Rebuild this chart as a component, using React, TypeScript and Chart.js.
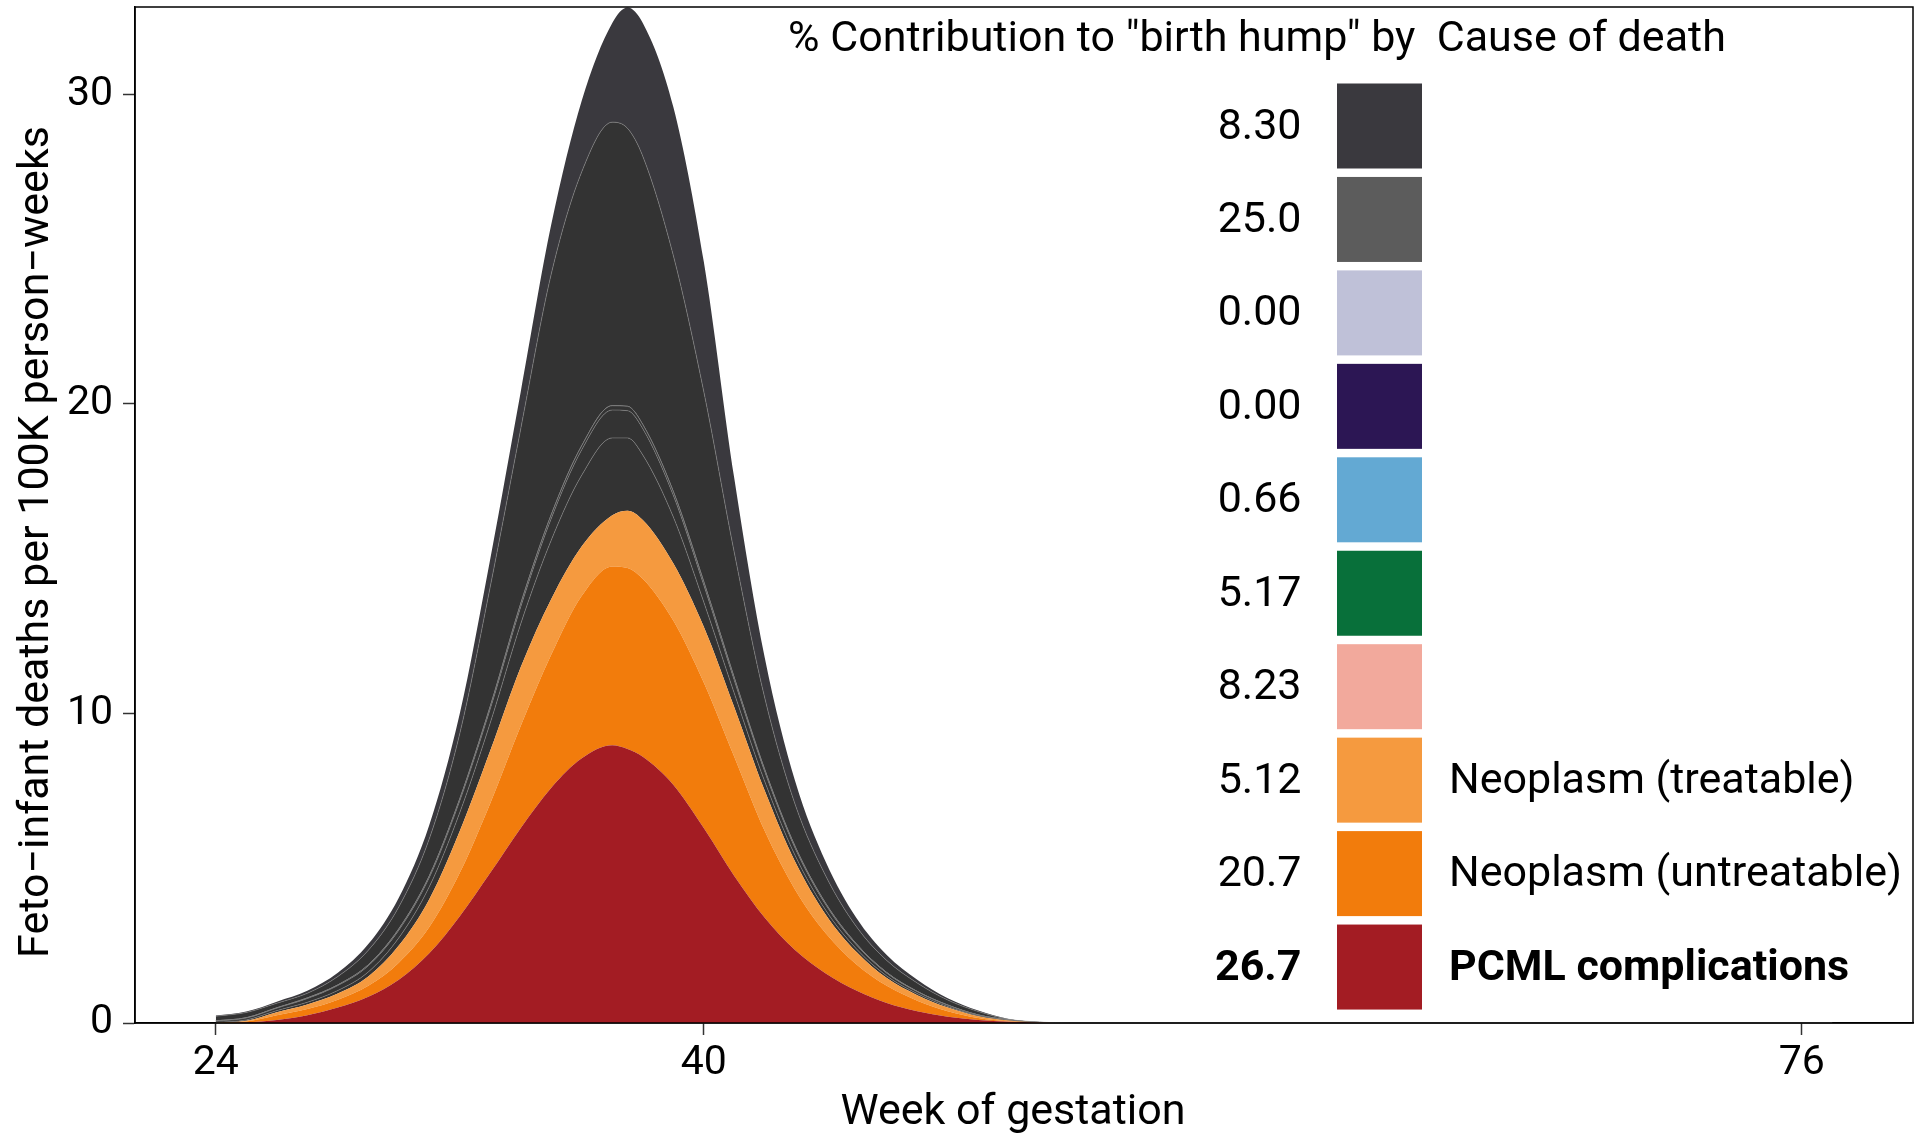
import React, { useEffect, useRef } from "react";
import { Chart, registerables } from "chart.js";

Chart.register(...registerables);

// ---- data -----------------------------------------------------------
const weeks = [24, 25, 26, 27, 28, 29, 30, 31, 32, 33, 34, 35, 36, 37, 37.5, 38, 39, 40, 41, 42, 43, 44, 45, 46, 47, 48, 49, 50, 51, 52, 77];

// layers from bottom to top (deaths per 100K person-weeks)
const pcmlComplications = [0, 0.02, 0.1, 0.25, 0.5, 0.85, 1.4, 2.25, 3.45, 4.85, 6.3, 7.6, 8.55, 8.97, 8.85, 8.6, 7.7, 6.3, 4.75, 3.4, 2.35, 1.6, 1.05, 0.65, 0.38, 0.2, 0.1, 0.04, 0.01, 0, 0];
const neoplasmUntreatable = [0, 0.03, 0.15, 0.2, 0.25, 0.35, 0.55, 0.85, 1.4, 2.25, 3.3, 4.3, 5.25, 5.78, 5.85, 5.75, 5.3, 4.7, 3.85, 2.8, 1.95, 1.3, 0.85, 0.55, 0.34, 0.18, 0.06, 0.01, 0, 0, 0];
const neoplasmTreatable = [0, 0.02, 0.1, 0.15, 0.2, 0.3, 0.55, 0.9, 1.35, 1.7, 1.9, 1.8, 1.6, 1.65, 1.85, 1.9, 1.85, 1.8, 1.6, 1.3, 0.9, 0.6, 0.4, 0.25, 0.18, 0.12, 0.06, 0.03, 0.01, 0, 0];
const cause823 = [0.02, 0.03, 0.05, 0.07, 0.1, 0.15, 0.25, 0.4, 0.6, 0.9, 1.4, 1.9, 2.3, 2.5, 2.35, 2.1, 1.5, 0.8, 0.45, 0.3, 0.2, 0.14, 0.1, 0.07, 0.05, 0.03, 0.02, 0.01, 0, 0, 0];
const cause517 = [0.04, 0.06, 0.08, 0.12, 0.16, 0.2, 0.25, 0.3, 0.38, 0.45, 0.55, 0.7, 0.82, 0.9, 0.88, 0.85, 0.7, 0.55, 0.42, 0.32, 0.24, 0.18, 0.13, 0.09, 0.06, 0.04, 0.02, 0.01, 0, 0, 0];
const cause066 = [0.01, 0.01, 0.01, 0.02, 0.02, 0.03, 0.04, 0.05, 0.06, 0.08, 0.1, 0.12, 0.13, 0.14, 0.14, 0.13, 0.12, 0.1, 0.08, 0.06, 0.05, 0.04, 0.03, 0.02, 0.01, 0.01, 0, 0, 0, 0, 0];
const cause000a = [0, 0, 0, 0, 0, 0, 0, 0, 0, 0, 0, 0, 0, 0, 0, 0, 0, 0, 0, 0, 0, 0, 0, 0, 0, 0, 0, 0, 0, 0, 0];
const cause000b = [0, 0, 0, 0, 0, 0, 0, 0, 0, 0, 0, 0, 0, 0, 0, 0, 0, 0, 0, 0, 0, 0, 0, 0, 0, 0, 0, 0, 0, 0, 0];
const cause250 = [0.15, 0.17, 0.15, 0.15, 0.27, 0.47, 0.71, 1.2, 2.11, 3.87, 5.65, 7.78, 8.85, 9.16, 8.98, 8.67, 7.63, 6.15, 4.05, 2.32, 1.36, 0.89, 0.56, 0.39, 0.27, 0.16, 0.11, 0.02, 0.01, 0, 0];
const cause830 = [0.02, 0.03, 0.05, 0.08, 0.12, 0.2, 0.3, 0.45, 0.65, 0.9, 1.2, 1.6, 2.3, 3.2, 3.9, 4.3, 4.8, 4.2, 2.4, 1.3, 0.75, 0.45, 0.28, 0.18, 0.11, 0.06, 0.03, 0.01, 0, 0, 0];

// legend (top to bottom)
const legendPercents = ["8.30", "25.0", "0.00", "0.00", "0.66", "5.17", "8.23", "5.12", "20.7", "26.7"];
const legendNames = ["", "", "", "", "", "", "", "Neoplasm (treatable)", "Neoplasm (untreatable)", "PCML complications"];
const legendColors = ["#3A393E", "#5C5C5C", "#BFC1D8", "#2C1654", "#63A9D3", "#08703A", "#F2A99C", "#F59A3F", "#F27C0C", "#A31C23"];

const xTicks = [24, 40, 76];
const yTicks = [0, 10, 20, 30];

const legendTitle = '% Contribution to "birth hump" by  Cause of death';
const xTitle = "Week of gestation";
const yTitle = "Feto\u2212infant deaths per 100K person\u2212weeks";

// ---- chart ----------------------------------------------------------
const layers = [
  { data: pcmlComplications, fill: "#A31C23", line: false },
  { data: neoplasmUntreatable, fill: "#F27C0C", line: false },
  { data: neoplasmTreatable, fill: "#F59A3F", line: false },
  { data: cause823, fill: "#333333", line: true },
  { data: cause517, fill: "#333333", line: true },
  { data: cause066, fill: "#333333", line: true },
  { data: cause000a, fill: "#333333", line: true },
  { data: cause000b, fill: "#333333", line: true },
  { data: cause250, fill: "#333333", line: true },
  { data: cause830, fill: "#3A393E", line: false },
];

const FONT = "Roboto";

const decorPlugin = {
  id: "decor",
  afterDraw(chart: any) {
    const { ctx, chartArea: a } = chart;
    ctx.save();
    // panel border
    ctx.strokeStyle = "#000";
    ctx.lineWidth = 1.5;
    ctx.strokeRect(a.left, a.top, a.right - a.left, a.bottom - a.top);

    ctx.fillStyle = "#000";
    // axis titles
    ctx.font = `43px ${FONT}`;
    ctx.textAlign = "center";
    ctx.textBaseline = "alphabetic";
    ctx.fillText(xTitle, 1013, 1124);
    ctx.save();
    ctx.translate(48, 542);
    ctx.rotate(-Math.PI / 2);
    ctx.fillText(yTitle, 0, 0);
    ctx.restore();

    // legend title
    ctx.textAlign = "left";
    ctx.fillText(legendTitle, 788, 51);

    // legend keys
    const keyX = 1337;
    const keyW = 85;
    const top0 = 83.5;
    const pitch = 93.45;
    for (let i = 0; i < legendPercents.length; i++) {
      const y = top0 + i * pitch;
      ctx.fillStyle = legendColors[i];
      ctx.fillRect(keyX, y, keyW, keyW);
      const bold = i === legendPercents.length - 1;
      ctx.fillStyle = "#000";
      ctx.font = `${bold ? "bold " : ""}43px ${FONT}`;
      const base = y + keyW / 2 + 12.5;
      ctx.textAlign = "right";
      ctx.fillText(legendPercents[i], 1301.5, base);
      if (legendNames[i]) {
        ctx.textAlign = "left";
        ctx.fillText(legendNames[i], 1449, base);
      }
    }
    ctx.restore();
  },
};

export default function App() {
  const ref = useRef<HTMLCanvasElement | null>(null);

  useEffect(() => {
    if (!ref.current) return;
    const datasets = layers.map((l, i) => ({
      data: weeks.map((w, j) => ({ x: w, y: l.data[j] })),
      backgroundColor: l.fill,
      borderColor: l.line ? "rgba(140,140,140,0.8)" : "rgba(0,0,0,0)",
      borderWidth: l.line ? 0.7 : 0,
      fill: i === 0 ? "origin" : "-1",
      pointRadius: 0,
      cubicInterpolationMode: "monotone" as const,
    }));

    const tickFont = { family: FONT, size: 41 };
    const zeroPad = (s: any) => {
      s.paddingTop = 0;
      s.paddingBottom = 0;
      s.paddingLeft = 0;
      s.paddingRight = 0;
    };
    const chart = new Chart(ref.current, {
      type: "line",
      data: { datasets },
      plugins: [decorPlugin],
      options: {
        animation: false,
        responsive: false,
        devicePixelRatio: 1,
        layout: { padding: { top: 7, right: 8, left: 0, bottom: 0 } },
        plugins: { legend: { display: false }, tooltip: { enabled: false } },
        scales: {
          x: {
            type: "linear",
            min: 21.35,
            max: 79.65,
            grid: { display: true, drawOnChartArea: false, drawTicks: true, tickLength: 12, tickWidth: 1.5, tickColor: "#333" },
            border: { display: true, color: "#000", width: 1.5 },
            ticks: { font: tickFont, color: "#000", padding: 4, autoSkip: false, maxRotation: 0 },
            afterBuildTicks: (s: any) => {
              s.ticks = xTicks.map((v) => ({ value: v }));
            },
            afterFit: (s: any) => {
              s.height = 112;
              zeroPad(s);
            },
          },
          y: {
            type: "linear",
            stacked: true,
            min: 0,
            max: 32.82,
            grid: { display: true, drawOnChartArea: false, drawTicks: true, tickLength: 12, tickWidth: 1.5, tickColor: "#333" },
            border: { display: true, color: "#000", width: 1.5 },
            ticks: { font: tickFont, color: "#000", padding: 10 },
            afterBuildTicks: (s: any) => {
              s.ticks = yTicks.map((v) => ({ value: v }));
            },
            afterFit: (s: any) => {
              s.width = 135;
              zeroPad(s);
            },
          },
        },
      },
    });
    return () => chart.destroy();
  }, []);

  return (
    <div style={{ position: "fixed", left: 0, top: 0, width: 1921, height: 1135, background: "#fff" }}>
      <canvas ref={ref} width={1921} height={1135} style={{ display: "block" }} />
    </div>
  );
}
